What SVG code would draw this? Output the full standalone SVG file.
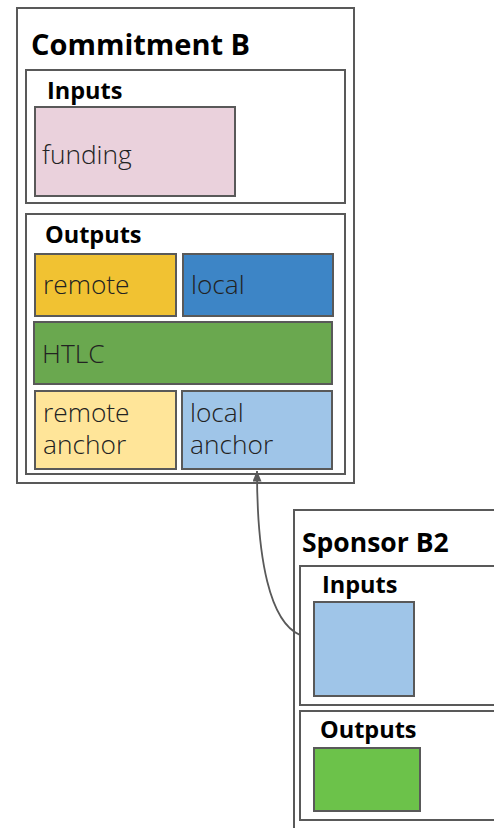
<svg xmlns="http://www.w3.org/2000/svg" width="494" height="828" viewBox="0 0 494 828">
  <style>
    .frame { fill: #ffffff; stroke: #595959; stroke-width: 2; }
    .box { stroke: #595959; stroke-width: 2; }
    .title { font-family: "Open Sans", "Liberation Sans", sans-serif; font-weight: bold; fill: #000; }
    .head { font-family: "Open Sans", "Liberation Sans", sans-serif; font-weight: bold; font-size: 23.5px; fill: #000; }
    .label { font-family: "Open Sans", "Liberation Sans", sans-serif; font-weight: 300; font-size: 26.3px; fill: #222; }
    .link { fill: none; stroke: #595959; stroke-width: 1.8; }
  </style>
  <defs>
    <marker id="arrow" viewBox="0 0 11 9" refX="10.5" refY="4.5" markerWidth="11" markerHeight="9" orient="auto" markerUnits="userSpaceOnUse">
      <path d="M0 0 L11 4.5 L0 9 Z" fill="#595959"/>
    </marker>
  </defs>

  <g id="commitment-b">
    <rect class="frame" x="17" y="8" width="337" height="475"/>
    <text class="title" x="31" y="55" font-size="29">Commitment B</text>
    <g id="commitment-inputs">
      <rect class="frame" x="26" y="70" width="319" height="133"/>
      <text class="head" x="47" y="99">Inputs</text>
      <g id="funding">
        <rect class="box" x="35" y="107" width="200" height="89" fill="#ead1dc"/>
        <text class="label" x="42" y="164">funding</text>
      </g>
    </g>
    <g id="commitment-outputs">
      <rect class="frame" x="26" y="214" width="319" height="260"/>
      <text class="head" x="45" y="243">Outputs</text>
      <g id="remote">
        <rect class="box" x="35" y="254" width="141" height="62" fill="#f1c232"/>
        <text class="label" x="43" y="294">remote</text>
      </g>
      <g id="local">
        <rect class="box" x="183" y="254" width="150" height="62" fill="#3d85c6"/>
        <text class="label" x="191" y="294">local</text>
      </g>
      <g id="htlc">
        <rect class="box" x="34" y="322" width="298" height="62" fill="#6aa84f"/>
        <text class="label" x="42" y="363">HTLC</text>
      </g>
      <g id="remote-anchor">
        <rect class="box" x="35" y="391" width="141" height="78" fill="#ffe599"/>
        <text class="label" x="43" y="422">remote</text>
        <text class="label" x="43" y="454">anchor</text>
      </g>
      <g id="local-anchor">
        <rect class="box" x="182" y="391" width="150" height="78" fill="#9fc5e8"/>
        <text class="label" x="190" y="422">local</text>
        <text class="label" x="190" y="454">anchor</text>
      </g>
    </g>
  </g>

  <g id="sponsor-b2">
    <rect class="frame" x="294" y="510" width="210" height="330"/>
    <text class="title" x="302" y="552" font-size="26.5">Sponsor B2</text>
    <g id="sponsor-inputs">
      <rect class="frame" x="300" y="566" width="204" height="139"/>
      <text class="head" x="322" y="593">Inputs</text>
      <g id="sponsor-input">
        <rect class="box" x="314" y="602" width="100" height="94" fill="#9fc5e8"/>
      </g>
    </g>
    <g id="sponsor-outputs">
      <rect class="frame" x="300" y="711" width="204" height="109"/>
      <text class="head" x="320" y="738">Outputs</text>
      <g id="sponsor-output">
        <rect class="box" x="314" y="748" width="106" height="63" fill="#6cc24a"/>
      </g>
    </g>
  </g>

  <g id="connectors">
    <path class="link" d="M300 635 C270 622 257 560 257 471" marker-end="url(#arrow)"/>
  </g>
</svg>
